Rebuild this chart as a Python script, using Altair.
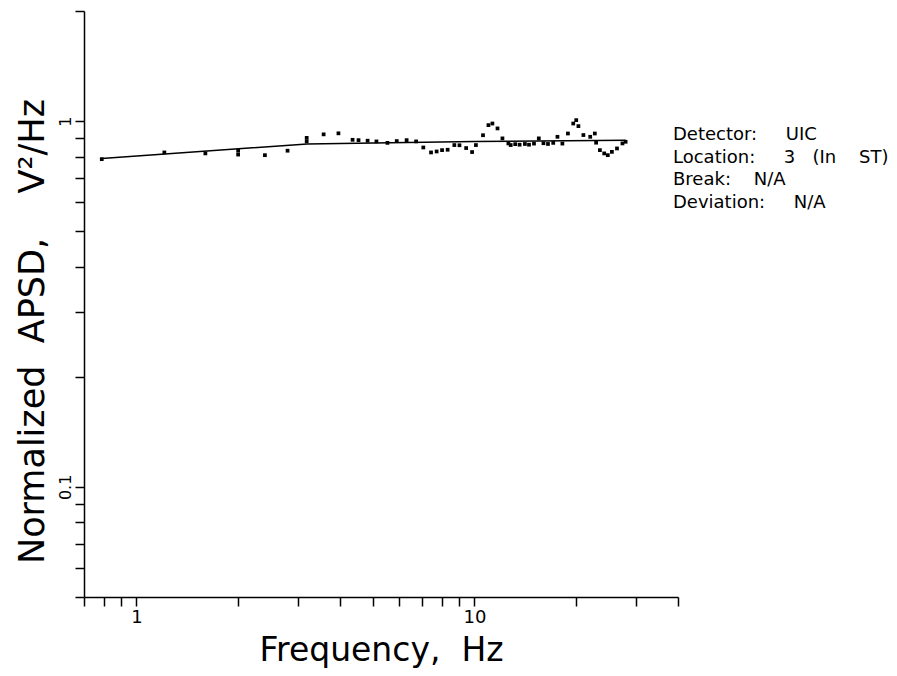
import altair as alt
import pandas as pd

# measured points (frequency in Hz, normalized APSD)
freq = [0.79, 1.21, 1.60, 2.0, 2.0, 2.40, 2.80, 3.19, 3.19, 3.58,
        3.96, 4.36, 4.54, 4.83, 5.13, 5.53, 5.89, 6.30, 6.72, 7.06,
        7.44, 7.73, 8.02, 8.33, 8.72, 9.03, 9.45, 9.84, 10.1, 10.6,
        11.0, 11.3, 11.7, 12.1, 12.6, 12.8, 13.2, 13.6, 14.1, 14.5,
        15.0, 15.5, 16.0, 16.5, 17.1, 17.6, 18.2, 18.9, 19.6, 20.0,
        20.3, 21.0, 22.0, 22.7, 22.9, 23.5, 24.2, 24.8, 25.5, 26.4,
        27.4, 28.0]
apsd = [0.787, 0.821, 0.816, 0.83, 0.81, 0.807, 0.830, 0.90, 0.88, 0.92,
        0.926, 0.889, 0.887, 0.884, 0.880, 0.872, 0.882, 0.887, 0.880, 0.847,
        0.821, 0.826, 0.833, 0.835, 0.860, 0.859, 0.844, 0.823, 0.860, 0.915,
        0.975, 0.985, 0.955, 0.897, 0.869, 0.860, 0.865, 0.862, 0.866, 0.862,
        0.868, 0.897, 0.870, 0.866, 0.872, 0.906, 0.868, 0.925, 0.985, 1.006,
        0.969, 0.916, 0.906, 0.925, 0.873, 0.833, 0.816, 0.807, 0.824, 0.842,
        0.869, 0.878]

# fitted curve vertices
fit_freq = [0.79, 3.2, 10.0, 28.0]
fit_apsd = [0.79, 0.866, 0.880, 0.886]

# axis ticks
x_ticks = [0.7, 0.8, 0.9, 1, 2, 3, 4, 5, 6, 7, 8, 9, 10, 20, 30, 40]
y_ticks = [0.05, 0.06, 0.07, 0.08, 0.09, 0.1, 0.2, 0.3, 0.4, 0.5, 0.6,
           0.7, 0.8, 0.9, 1, 2]

S = "\u00a0"
info_lines = [
    "Detector:" + S * 5 + "UIC",
    "Location:" + S * 5 + "3" + S * 3 + "(In" + S * 4 + "ST)",
    "Break:" + S * 4 + "N/A",
    "Deviation:" + S * 5 + "N/A",
]

FONT = "DejaVu Sans"

pts = pd.DataFrame({"f": freq, "p": apsd})
fit = pd.DataFrame({"f": fit_freq, "p": fit_apsd})

xscale = alt.Scale(type="log", domain=[0.7, 40], nice=False)
yscale = alt.Scale(type="log", domain=[0.05, 2], nice=False)

xaxis = alt.Axis(
    values=x_ticks,
    labelExpr="datum.value == 1 ? '1' : (datum.value == 10 ? '10' : '')",
    labelOverlap=False, labelFlush=False, grid=False,
    tickSize=9, tickWidth=1.5, tickColor="black",
    domainColor="black", domainWidth=1.5,
    labelFontSize=18, labelColor="black", labelPadding=2, labelFont=FONT,
    title="Frequency," + S * 2 + "Hz", titleFontSize=33, titleFontWeight="normal",
    titleColor="black", titleFont=FONT, titleBaseline="alphabetic", titleY=63,
)
yaxis = alt.Axis(
    values=y_ticks,
    labelExpr="datum.value == 1 ? '1' : (abs(datum.value - 0.1) < 1e-9 ? '0.1' : '')",
    labelOverlap=False, labelFlush=False, grid=False, labelAngle=270,
    tickSize=9, tickWidth=1.5, tickColor="black",
    domainColor="black", domainWidth=1.5,
    labelFontSize=16, labelColor="black", labelPadding=2, labelFont=FONT,
    title="Normalized" + S * 2 + "APSD," + S * 4 + "V\u00b2/Hz", titleFontSize=35,
    titleFontWeight="normal", titleColor="black", titleFont=FONT,
    titleAngle=270, titleBaseline="alphabetic", titleX=-41, titleY=320,
)

points = alt.Chart(pts).mark_square(color="black", size=14, opacity=1).encode(
    x=alt.X("f:Q", scale=xscale, axis=xaxis),
    y=alt.Y("p:Q", scale=yscale, axis=yaxis),
)

line = alt.Chart(fit).mark_line(color="black", strokeWidth=1.5).encode(
    x=alt.X("f:Q", scale=xscale),
    y=alt.Y("p:Q", scale=yscale),
)

layers = [line, points]
for i, txt in enumerate(info_lines):
    layers.append(
        alt.Chart(pd.DataFrame({"a": [0]})).mark_text(
            text=txt, align="left", baseline="alphabetic", fontSize=18,
            font=FONT, color="black",
        ).encode(x=alt.value(589), y=alt.value(129 + 22.5 * i))
    )

chart = (
    alt.layer(*layers)
    .properties(width=594, height=586, background="white",
                autosize=alt.AutoSizeParams(type="none"),
                padding={"left": 76, "top": 3, "right": 211, "bottom": 71})
    .configure_view(strokeWidth=0, stroke=None)
)

chart.save("out.html", embed_options={"renderer": "svg", "actions": False})
